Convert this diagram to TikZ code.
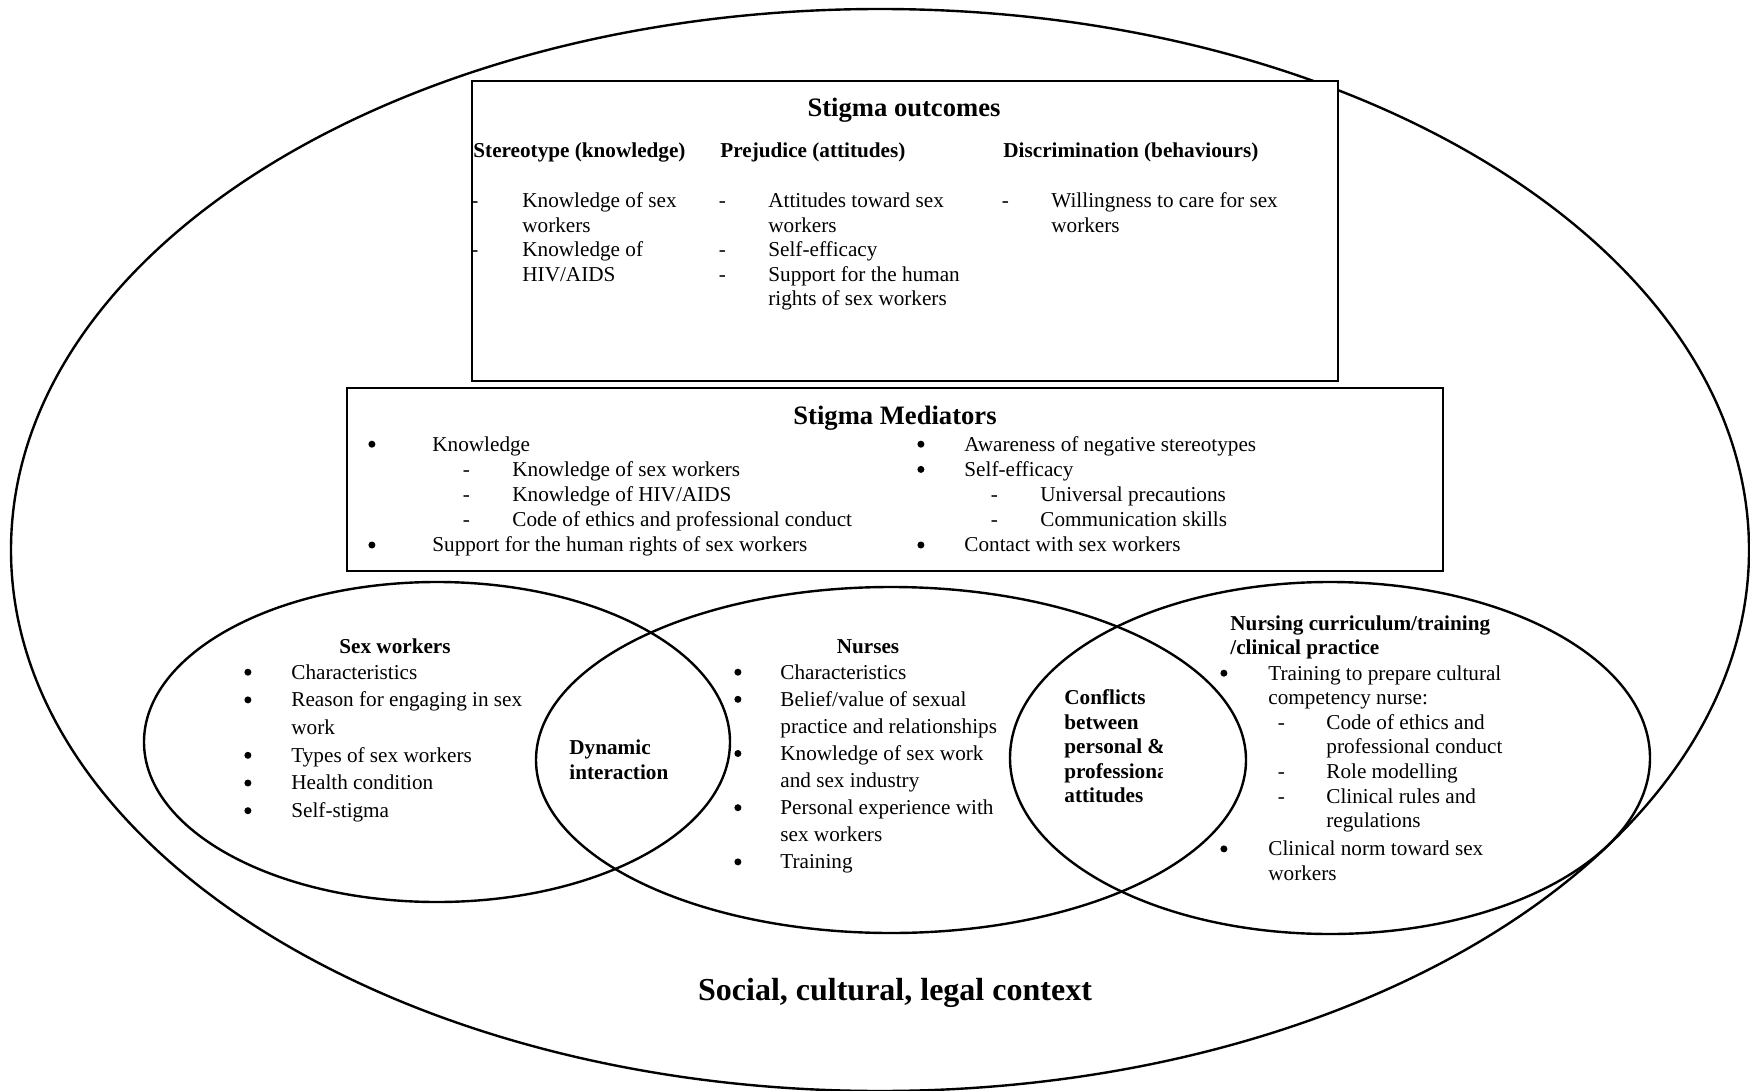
\documentclass[tikz,border=0pt]{standalone}
\usepackage{fontspec}
\setmainfont{Liberation Serif}
\usepackage{array}
% list with a marker column of width #1 (first row baseline = node baseline)
\newcommand\mlist[2]{\begin{tabular}[t]{@{}p{#1}@{}l@{}}#2\end{tabular}}
% plain stacked lines
\newcommand\stackl[1]{\begin{tabular}[t]{@{}l@{}}#1\end{tabular}}
% nested dash item: indent #1, marker width #2, text #3
\newcommand\subit[3]{\hspace*{#1}\makebox[#2][l]{-}#3}
% round list bullet
\newcommand\bu{\tikz[baseline=0pt]\fill (1.1pt,3.4pt) circle (1.75pt);}
\tikzset{
  venn/.style={line width=1.2pt},
  frame/.style={line width=1pt},
  body/.style={inner sep=0pt, anchor=base west, font=\fontsize{10.6}{#1}\selectfont},
  body/.default=12.25,
  hd/.style={inner sep=0pt, anchor=base west, font=\fontsize{10.6}{#1}\selectfont\bfseries},
  hd/.default=12.25,
  ctitle/.style={inner sep=0pt, anchor=base, font=\fontsize{10.6}{12.25}\selectfont\bfseries},
  btitle/.style={inner sep=0pt, anchor=base, font=\fontsize{13.3}{16}\selectfont\bfseries},
}
\begin{document}
\begin{tikzpicture}[x=0.5pt,y=-0.5pt]
\useasboundingbox (0,0) rectangle (1750,1091);

% social, cultural, legal context
\draw[venn] (880,550) ellipse [x radius=434.5pt, y radius=270.5pt];
\node[inner sep=0pt, anchor=base, font=\fontsize{16}{19}\selectfont\bfseries] (ctx) at (895,1000) {Social, cultural, legal context};

% ---------- stigma outcomes ----------
\draw[frame, fill=white] (472,81) rectangle (1338,381);
\node[btitle] (out) at (904,117) {Stigma outcomes};
\node[hd] (h1) at (473,158) {Stereotype (knowledge)};
\node[hd] (h2) at (720,158) {Prejudice (attitudes)};
\node[hd] (h3) at (1003,158) {Discrimination (behaviours)};
\node[body] (o1) at (471,208) {\mlist{25.5pt}{- & Knowledge of sex\\ & workers\\ - & Knowledge of\\ & HIV/AIDS}};
\node[body] (o2) at (718.5,208) {\mlist{24.75pt}{- & Attitudes toward sex\\ & workers\\ - & Self-efficacy\\ - & Support for the human\\ & rights of sex workers}};
\node[body] (o3) at (1001.5,208) {\mlist{24.75pt}{- & Willingness to care for sex\\ & workers}};

% ---------- stigma mediators ----------
\draw[frame, fill=white] (347,388) rectangle (1443,571);
\node[btitle] (med) at (895,424) {Stigma Mediators};
\node[body=12.6] (m1) at (368,451) {\mlist{32pt}{\bu & Knowledge\\
  & \subit{15.25pt}{24.75pt}{Knowledge of sex workers}\\
  & \subit{15.25pt}{24.75pt}{Knowledge of HIV/AIDS}\\
  & \subit{15.25pt}{24.75pt}{Code of ethics and professional conduct}\\
  \bu & Support for the human rights of sex workers}};
\node[body=12.6] (m2) at (917,451) {\mlist{23.5pt}{\bu & Awareness of negative stereotypes\\
  \bu & Self-efficacy\\
  & \subit{13.25pt}{24.75pt}{Universal precautions}\\
  & \subit{13.25pt}{24.75pt}{Communication skills}\\
  \bu & Contact with sex workers}};

% ---------- three overlapping groups ----------
\draw[venn] (437,742) ellipse [x radius=146.5pt, y radius=80pt];
\draw[venn] (891,760) ellipse [x radius=177.5pt, y radius=86.5pt];
\draw[venn] (1330,758) ellipse [x radius=160pt, y radius=88pt];

% sex workers
\node[ctitle] (sw) at (395,653) {Sex workers};
\node[body=13.85] (swl) at (244,679) {\mlist{23.5pt}{\bu & Characteristics\\
  \bu & Reason for engaging in sex\\ & work\\
  \bu & Types of sex workers\\
  \bu & Health condition\\
  \bu & Self-stigma}};

% dynamic interaction
\node[hd=12.85] (dyn) at (569,754) {\stackl{Dynamic\\interaction}};

% nurses
\node[ctitle] (nu) at (868,653) {Nurses};
\node[body=13.55] (nul) at (734,679) {\mlist{23pt}{\bu & Characteristics\\
  \bu & Belief/value of sexual\\ & practice and relationships\\
  \bu & Knowledge of sex work\\ & and sex industry\\
  \bu & Personal experience with\\ & sex workers\\
  \bu & Training}};

% conflicts (text box narrower than its last word)
\begin{scope}
  \clip (1050,660) rectangle (1162,820);
  \node[hd=12.3] (con) at (1064,704.5) {\stackl{Conflicts\\between\\personal \&\\professional\\attitudes}};
\end{scope}

% nursing curriculum
\node[hd=12.25] (nc) at (1230,630) {\stackl{Nursing curriculum/training\\/clinical practice}};
\node[body=12.3] (ncl) at (1220,680) {\mlist{24pt}{\bu & Training to prepare cultural\\
  & competency nurse:\\
  & \subit{4.75pt}{24.25pt}{Code of ethics and}\\
  & \hspace*{29pt}professional conduct\\
  & \subit{4.75pt}{24.25pt}{Role modelling}\\
  & \subit{4.75pt}{24.25pt}{Clinical rules and}\\
  & \hspace*{29pt}regulations\\[1.75pt]
  \bu & Clinical norm toward sex\\
  & workers}};
\end{tikzpicture}
\end{document}
